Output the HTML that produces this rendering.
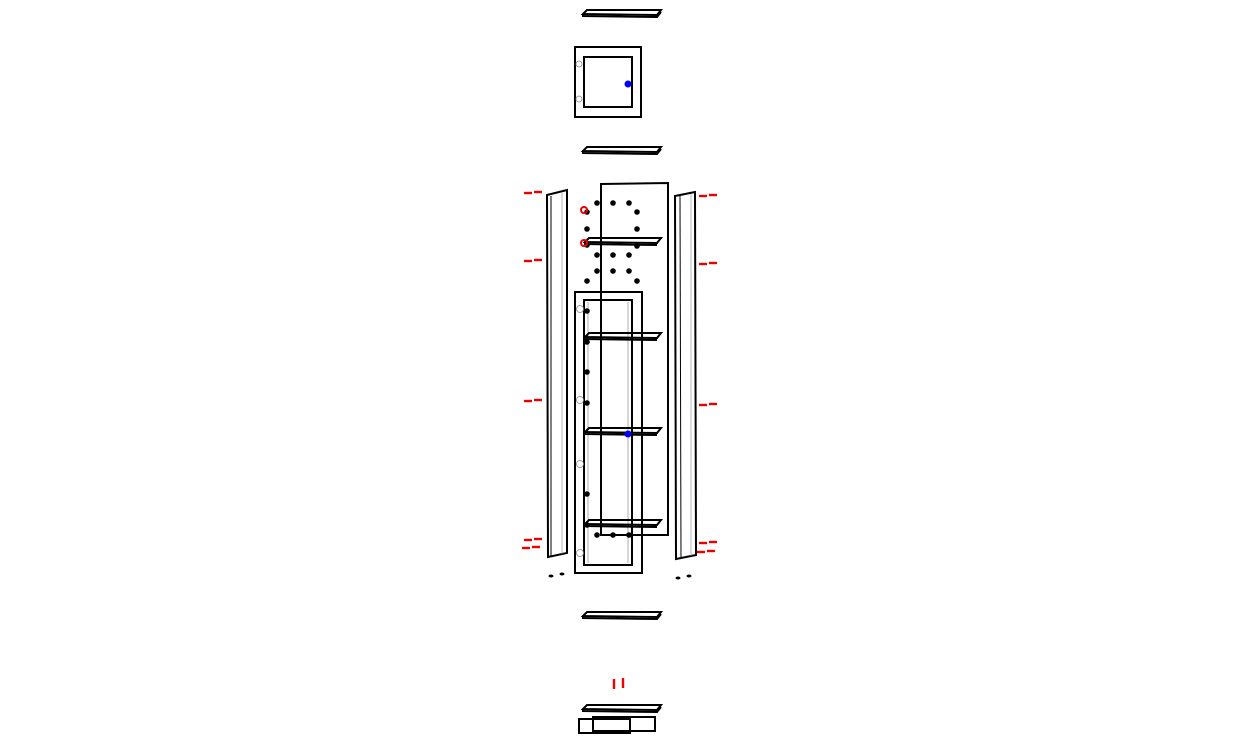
<!DOCTYPE html>
<html><head><style>body{margin:0;background:#fff}svg{display:block}</style></head><body>
<svg width="1241" height="744" viewBox="0 0 1241 744" xmlns="http://www.w3.org/2000/svg" fill="none" stroke="#000" stroke-width="2">
<defs>
<g id="board"><path d="M583,14 L587,10 L661,10 L657,15 Z"/><path d="M583,14 L583,16 L657,17 L661,12"/></g>
<g id="shelf"><path d="M585,2 L589,-2 L661,-2 L657,3 Z"/><path d="M585,2 L585,4 L657,5"/></g>
<g id="ar"><path d="M0,0 h8" stroke="#e00" stroke-width="2.4"/><path d="M10,-1 h8" stroke="#e00" stroke-width="2.4"/></g>
</defs>
<use href="#board"/>
<use href="#board" y="137"/>
<use href="#board" y="602"/>
<use href="#board" y="695"/>
<rect x="575" y="47" width="66" height="70"/>
<rect x="584" y="57" width="48" height="50"/>
<circle cx="579" cy="64" r="3" stroke-width="0.8" stroke="#888"/>
<circle cx="579" cy="99" r="3" stroke-width="0.8" stroke="#888"/>
<circle cx="628" cy="84" r="3.5" fill="#00f" stroke="none"/>
<path d="M601,184 L668,183 L668,535 L601,535 Z"/>
<path d="M547,195 L567,190 L567,553 L548,557 Z"/><path d="M551,196 L551,556" stroke-width="1"/><path d="M562,192 L562,554" stroke-width="0.7" stroke="#999"/>
<path d="M675,196 L695,192 L696,555 L676,559 Z"/><path d="M680,196 L681,558" stroke-width="1"/><path d="M691,194 L691,556" stroke-width="0.7" stroke="#999"/>
<rect x="575" y="292" width="67" height="281"/>
<rect x="584" y="300" width="48" height="265"/>
<path d="M588,302 V563 M628,302 V563" stroke="#999" stroke-width="0.8"/>
<circle cx="580" cy="309" r="3.5" stroke="#888" stroke-width="0.8"/>
<circle cx="580" cy="400" r="3.5" stroke="#888" stroke-width="0.8"/>
<circle cx="580" cy="464" r="3.5" stroke="#888" stroke-width="0.8"/>
<circle cx="580" cy="553" r="3.5" stroke="#888" stroke-width="0.8"/>
<use href="#shelf" y="240"/><use href="#shelf" y="335"/><use href="#shelf" y="430"/><use href="#shelf" y="522"/>
<circle cx="628" cy="434" r="3.5" fill="#00f" stroke="none"/>
<g fill="#000" stroke="none">
<circle cx="597" cy="203" r="2.8"/><circle cx="613" cy="203" r="2.8"/><circle cx="629" cy="203" r="2.8"/>
<circle cx="587" cy="212" r="2.8"/><circle cx="637" cy="212" r="2.8"/>
<circle cx="587" cy="229" r="2.8"/><circle cx="637" cy="229" r="2.8"/>
<circle cx="587" cy="245" r="2.8"/><circle cx="637" cy="246" r="2.8"/>
<circle cx="597" cy="255" r="2.8"/><circle cx="613" cy="255" r="2.8"/><circle cx="629" cy="255" r="2.8"/>
<circle cx="597" cy="271" r="2.8"/><circle cx="613" cy="271" r="2.8"/><circle cx="629" cy="271" r="2.8"/>
<circle cx="587" cy="281" r="2.8"/><circle cx="637" cy="281" r="2.8"/>
<circle cx="587" cy="311" r="2.8"/><circle cx="587" cy="342" r="2.8"/><circle cx="587" cy="372" r="2.8"/><circle cx="587" cy="403" r="2.8"/>
<circle cx="587" cy="494" r="2.8"/><circle cx="587" cy="525" r="2.8"/>
<circle cx="597" cy="535" r="2.8"/><circle cx="613" cy="535" r="2.8"/><circle cx="629" cy="535" r="2.8"/>
<ellipse cx="551" cy="576" rx="2.5" ry="1.5"/><ellipse cx="562" cy="574" rx="2.5" ry="1.5"/>
<ellipse cx="678" cy="578" rx="2.5" ry="1.5"/><ellipse cx="689" cy="576" rx="2.5" ry="1.5"/>
</g>
<circle cx="584" cy="210" r="3" stroke="#e00"/><circle cx="584" cy="243" r="3" stroke="#e00"/>
<use href="#ar" x="524" y="193"/><use href="#ar" x="524" y="261"/><use href="#ar" x="524" y="401"/><use href="#ar" x="524" y="540"/><use href="#ar" x="522" y="548"/>
<use href="#ar" x="699" y="196"/><use href="#ar" x="699" y="264"/><use href="#ar" x="699" y="405"/><use href="#ar" x="699" y="543"/><use href="#ar" x="697" y="552"/>
<path d="M614,679 V689 M623,678 V688" stroke="#e00" stroke-width="2.4"/>
<rect x="579" y="719" width="51" height="14"/>
<rect x="593" y="717" width="62" height="14"/>
</svg>
</body></html>
